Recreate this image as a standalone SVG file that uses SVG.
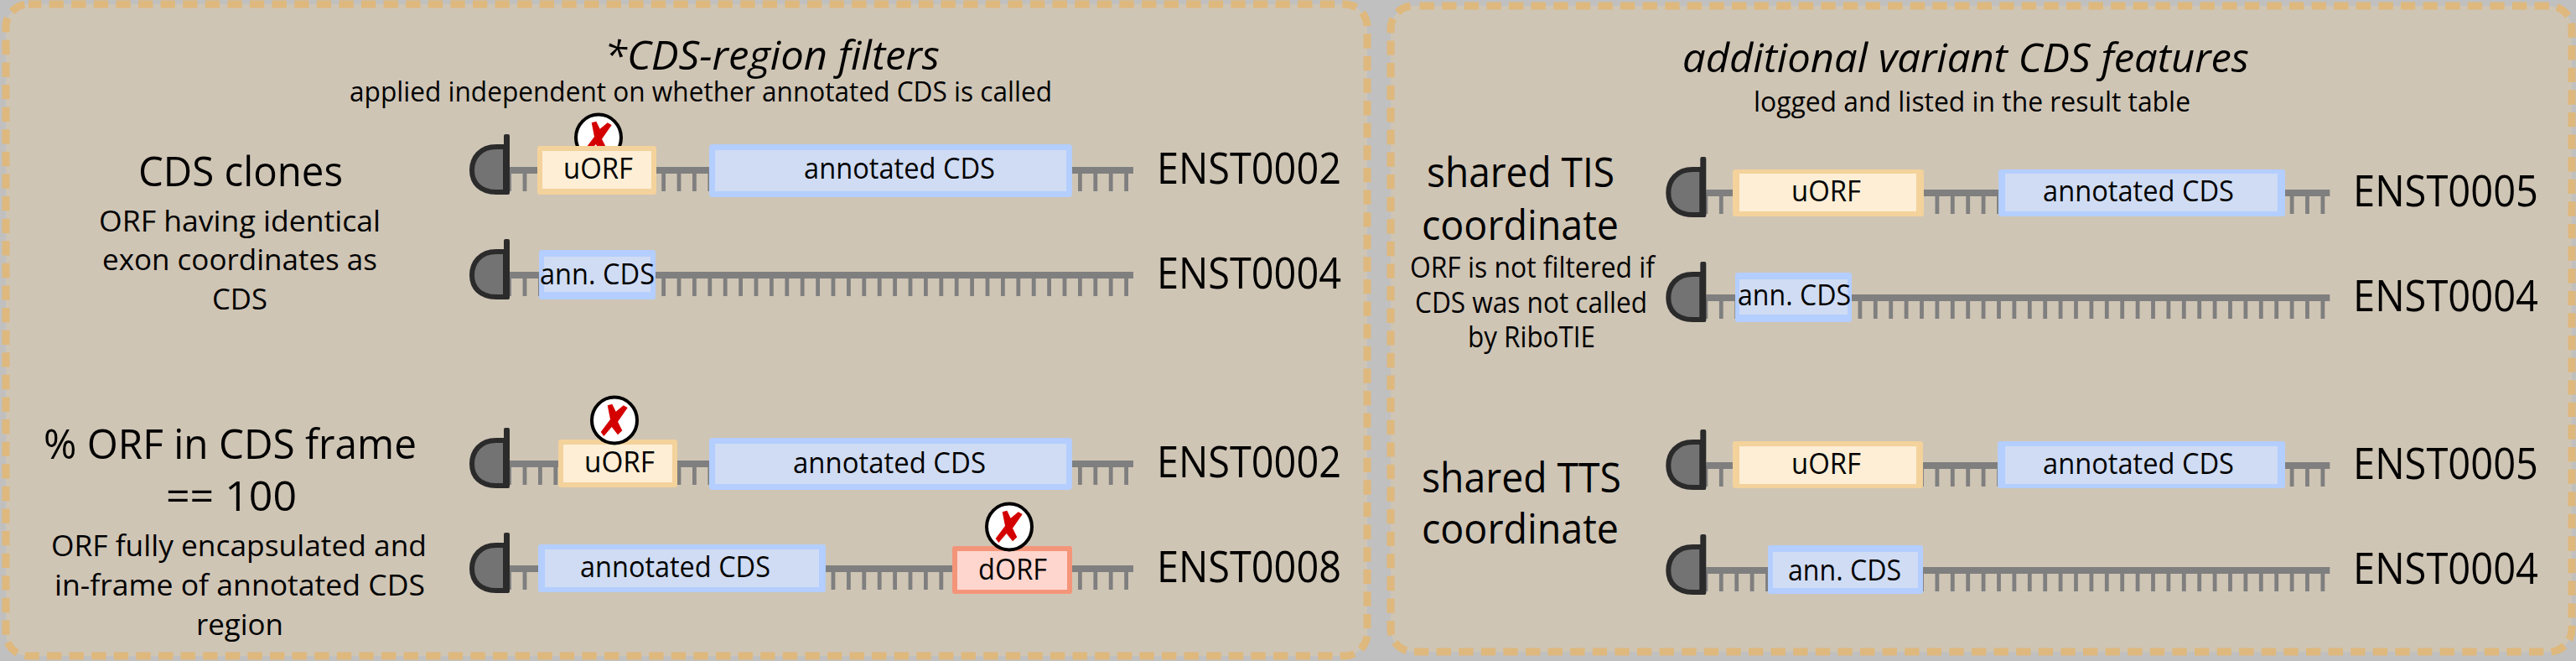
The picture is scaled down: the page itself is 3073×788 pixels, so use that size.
<svg xmlns="http://www.w3.org/2000/svg" width="3073" height="788" viewBox="0 0 3073 788">
<style>
text{font-family:"Open Sans","Noto Sans","Liberation Sans",sans-serif;fill:#000}
.t{font-size:48px;font-style:italic}
.s{font-size:32px}
.h{font-size:49px}
.d{font-size:35px}
.e{font-size:51px}
.b{font-size:35px}
.panel{fill:#cfc5b5;stroke:#deb87d;stroke-width:9;stroke-dasharray:17.3 9.3}
.uo{fill:#f3d29b}.ui{fill:#fdeed5}
.co{fill:#b3ceff}.ci{fill:#d0dcf3}
.do{fill:#f4957a}.di{fill:#fed6ce}
.capd{fill:#737373;stroke:#2b2b2b;stroke-width:6}
.capb{fill:#2b2b2b}
.line{fill:#7f7f7f}
.tooth{stroke:#7f7f7f;stroke-width:4.8;fill:none}
.ring{fill:#fff;stroke:#000;stroke-width:4}
.x{fill:#d40000}
</style>
<defs>
<g id="track">
<rect class="line" x="-18" y="-4" width="744" height="8"/>
<path class="tooth" d="M-18.4 0V25M0 0V25M18.4 0V25M36.8 0V25M55.2 0V25M73.6 0V25M92 0V25M110.4 0V25M128.8 0V25M147.2 0V25M165.6 0V25M184 0V25M202.4 0V25M220.8 0V25M239.2 0V25M257.6 0V25M276 0V25M294.4 0V25M312.8 0V25M331.2 0V25M349.6 0V25M368 0V25M386.4 0V25M404.8 0V25M423.2 0V25M441.6 0V25M460 0V25M478.4 0V25M496.8 0V25M515.2 0V25M533.6 0V25M552 0V25M570.4 0V25M588.8 0V25M607.2 0V25M625.6 0V25M644 0V25M662.4 0V25M680.8 0V25M699.2 0V25M717.6 0V25"/>
</g>
<g id="cap">
<path class="capd" d="M-23 -28H-34C-53 -28 -63 -15 -63 0C-63 15 -53 26 -34 26H-23Z"/>
<rect class="capb" x="-25" y="-43" width="7" height="72" rx="2"/>
</g>
<g id="rej">
<ellipse class="ring" cx="0" cy="0" rx="27" ry="27.5"/>
<path class="x" d="M-8.3 -17.7L-2.7 -19.3L1.7 -10.3L10.7 -17.7L15.7 -15L4 1.7L9.3 12.3L4 17.3L-3.3 8L-12.7 19L-16.3 14L-5 -1Z"/>
</g>
</defs>
<rect width="3073" height="788" fill="#c0c0c0"/>
<g id="panel-cds-region">
<rect class="panel" x="7" y="5" width="1624" height="777" rx="27" stroke-dashoffset="2"/>
<text class="t" x="721" y="83" textLength="400" lengthAdjust="spacingAndGlyphs">*CDS-region filters</text>
<text class="s" x="417" y="121" textLength="838" lengthAdjust="spacingAndGlyphs">applied independent on whether annotated CDS is called</text>
<text class="h" x="165" y="222" textLength="244" lengthAdjust="spacingAndGlyphs">CDS clones</text>
<text class="d" x="118" y="276" textLength="336" lengthAdjust="spacingAndGlyphs">ORF having identical</text>
<text class="d" x="122" y="322" textLength="328" lengthAdjust="spacingAndGlyphs">exon coordinates as</text>
<text class="d" x="253" y="369" textLength="66" lengthAdjust="spacingAndGlyphs">CDS</text>
<text class="h" x="52" y="547" textLength="445" lengthAdjust="spacingAndGlyphs">% ORF in CDS frame</text>
<text class="h" x="198" y="609" textLength="156" lengthAdjust="spacingAndGlyphs">== 100</text>
<text class="d" x="61" y="663" textLength="448" lengthAdjust="spacingAndGlyphs">ORF fully encapsulated and</text>
<text class="d" x="65" y="710" textLength="442" lengthAdjust="spacingAndGlyphs">in-frame of annotated CDS</text>
<text class="d" x="234" y="757" textLength="104" lengthAdjust="spacingAndGlyphs">region</text>
</g>
<g id="panel-variant">
<rect class="panel" x="1659" y="7" width="1409" height="770" rx="27" stroke-dashoffset="19"/>
<text class="t" x="2007" y="86" textLength="676" lengthAdjust="spacingAndGlyphs">additional variant CDS features</text>
<text class="s" x="2092" y="133" textLength="521" lengthAdjust="spacingAndGlyphs">logged and listed in the result table</text>
<text class="h" x="1702" y="223" textLength="224" lengthAdjust="spacingAndGlyphs">shared TIS</text>
<text class="h" x="1696" y="286" textLength="235" lengthAdjust="spacingAndGlyphs">coordinate</text>
<text class="d" x="1682" y="331" textLength="292" lengthAdjust="spacingAndGlyphs">ORF is not filtered if</text>
<text class="d" x="1688" y="373" textLength="277" lengthAdjust="spacingAndGlyphs">CDS was not called</text>
<text class="d" x="1751" y="414" textLength="152" lengthAdjust="spacingAndGlyphs">by RiboTIE</text>
<text class="h" x="1696" y="587" textLength="238" lengthAdjust="spacingAndGlyphs">shared TTS</text>
<text class="h" x="1696" y="648" textLength="235" lengthAdjust="spacingAndGlyphs">coordinate</text>
</g>
<g id="connectors">
<use href="#track" x="626" y="203"/>
<use href="#track" x="626" y="328"/>
<use href="#track" x="626" y="553"/>
<use href="#track" x="626" y="678"/>
<use href="#track" x="2053.3" y="230"/>
<use href="#track" x="2053.3" y="355"/>
<use href="#track" x="2053.3" y="555"/>
<use href="#track" x="2053.3" y="680"/>
</g>
<g id="caps">
<use href="#cap" x="626" y="203"/>
<use href="#cap" x="626" y="328"/>
<use href="#cap" x="626" y="553"/>
<use href="#cap" x="626" y="678"/>
<use href="#cap" x="2053.3" y="230"/>
<use href="#cap" x="2053.3" y="355"/>
<use href="#cap" x="2053.3" y="555"/>
<use href="#cap" x="2053.3" y="680"/>
</g>
<g id="row1">
<use href="#rej" x="714" y="164"/>
<g id="r1-uorf"><rect class="uo" x="641" y="174" width="142" height="58" rx="3"/><rect class="ui" x="647" y="180" width="130" height="45"/><text class="b" x="672" y="213" textLength="83" lengthAdjust="spacingAndGlyphs">uORF</text></g>
<g id="r1-cds"><rect class="co" x="846" y="172" width="433" height="63" rx="4"/><rect class="ci" x="853" y="179" width="419" height="49"/><text class="b" x="959" y="213" textLength="228" lengthAdjust="spacingAndGlyphs">annotated CDS</text></g>
<text id="r1-id" class="e" x="1380" y="219" textLength="220" lengthAdjust="spacingAndGlyphs">ENST0002</text>
</g>
<g id="row2">
<g id="r2-cds"><rect class="co" x="643" y="298" width="139" height="59" rx="3"/><rect class="ci" x="649" y="306" width="127" height="42"/><text class="b" x="644" y="339" textLength="137" lengthAdjust="spacingAndGlyphs">ann. CDS</text></g>
<text id="r2-id" class="e" x="1380" y="344" textLength="220" lengthAdjust="spacingAndGlyphs">ENST0004</text>
</g>
<g id="row3">
<g id="r3-uorf"><rect class="uo" x="666" y="524" width="142" height="57" rx="3"/><rect class="ui" x="672" y="530" width="130" height="45"/><text class="b" x="697" y="563" textLength="84" lengthAdjust="spacingAndGlyphs">uORF</text></g>
<use href="#rej" x="733" y="501"/>
<g id="r3-cds"><rect class="co" x="846" y="522" width="433" height="62" rx="4"/><rect class="ci" x="853" y="529" width="419" height="48"/><text class="b" x="946" y="564" textLength="230" lengthAdjust="spacingAndGlyphs">annotated CDS</text></g>
<text id="r3-id" class="e" x="1380" y="569" textLength="220" lengthAdjust="spacingAndGlyphs">ENST0002</text>
</g>
<g id="row4">
<g id="r4-cds"><rect class="co" x="642" y="649" width="343" height="57" rx="3"/><rect class="ci" x="650" y="655" width="327" height="45"/><text class="b" x="692" y="688" textLength="227" lengthAdjust="spacingAndGlyphs">annotated CDS</text></g>
<g id="r4-dorf"><rect class="do" x="1136" y="651" width="143" height="57" rx="3"/><rect class="di" x="1142" y="657" width="131" height="46"/><text class="b" x="1167" y="691" textLength="82" lengthAdjust="spacingAndGlyphs">dORF</text></g>
<use href="#rej" x="1204" y="628"/>
<text id="r4-id" class="e" x="1380" y="694" textLength="220" lengthAdjust="spacingAndGlyphs">ENST0008</text>
</g>
<g id="row5">
<g id="r5-uorf"><rect class="uo" x="2067" y="202" width="228" height="56" rx="3"/><rect class="ui" x="2075" y="207" width="211" height="45"/><text class="b" x="2137" y="240" textLength="83" lengthAdjust="spacingAndGlyphs">uORF</text></g>
<g id="r5-cds"><rect class="co" x="2384" y="202" width="342" height="56" rx="3"/><rect class="ci" x="2392" y="207" width="325" height="45"/><text class="b" x="2437" y="240" textLength="228" lengthAdjust="spacingAndGlyphs">annotated CDS</text></g>
<text id="r5-id" class="e" x="2807" y="246" textLength="221" lengthAdjust="spacingAndGlyphs">ENST0005</text>
</g>
<g id="row6">
<g id="r6-cds"><rect class="co" x="2070" y="325" width="139" height="59" rx="3"/><rect class="ci" x="2075" y="333" width="129" height="42"/><text class="b" x="2073" y="364" textLength="135" lengthAdjust="spacingAndGlyphs">ann. CDS</text></g>
<text id="r6-id" class="e" x="2807" y="371" textLength="221" lengthAdjust="spacingAndGlyphs">ENST0004</text>
</g>
<g id="row7">
<g id="r7-uorf"><rect class="uo" x="2067" y="526" width="227" height="56" rx="3"/><rect class="ui" x="2075" y="532" width="211" height="45"/><text class="b" x="2137" y="565" textLength="83" lengthAdjust="spacingAndGlyphs">uORF</text></g>
<g id="r7-cds"><rect class="co" x="2383" y="526" width="343" height="56" rx="3"/><rect class="ci" x="2392" y="532" width="325" height="45"/><text class="b" x="2437" y="565" textLength="228" lengthAdjust="spacingAndGlyphs">annotated CDS</text></g>
<text id="r7-id" class="e" x="2807" y="571" textLength="221" lengthAdjust="spacingAndGlyphs">ENST0005</text>
</g>
<g id="row8">
<g id="r8-cds"><rect class="co" x="2109" y="650" width="185" height="58" rx="3"/><rect class="ci" x="2115" y="658" width="173" height="43"/><text class="b" x="2133" y="692" textLength="135" lengthAdjust="spacingAndGlyphs">ann. CDS</text></g>
<text id="r8-id" class="e" x="2807" y="696" textLength="221" lengthAdjust="spacingAndGlyphs">ENST0004</text>
</g>
</svg>
